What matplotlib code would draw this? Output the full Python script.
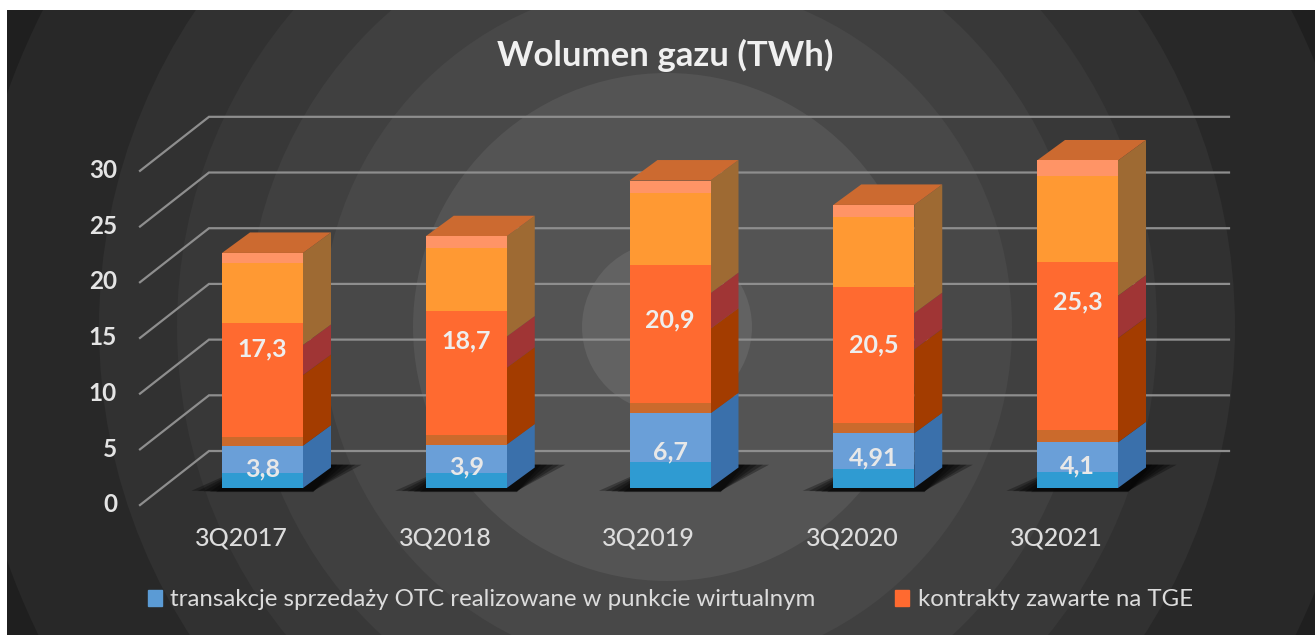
import numpy as np
import matplotlib
matplotlib.use("Agg")
import matplotlib.pyplot as plt
from matplotlib.patches import Circle, Patch

plt.rcParams["font.family"] = ["Lato", "DejaVu Sans"]

quarters = ["3Q2017", "3Q2018", "3Q2019", "3Q2020", "3Q2021"]
otc = [3.8, 3.9, 6.7, 4.91, 4.1]
tge = [17.3, 18.7, 20.9, 20.5, 25.3]
otc_labels = ["3,8", "3,9", "6,7", "4,91", "4,1"]
tge_labels = ["17,3", "18,7", "20,9", "20,5", "25,3"]
yticks = [0, 5, 10, 15, 20, 25, 30]

# shading bands on the 3d bars
blue_band = [1.35, 1.35, 2.3, 1.68, 1.46]
rust_band = [4.6, 4.76, 7.6, 5.8, 5.2]
red_band = [14.84, 15.9, 20.0, 18.0, 20.3]
amber_band = [20.2, 21.5, 26.45, 24.35, 28.0]
side_dark = [10.14, 10.8, 14.3, 12.45, 13.46]
side_maroon = [12.84, 13.6, 17.5, 15.7, 17.26]
# label heights, two of them were moved by hand in the original
otc_label_y = [1.7, 1.9, 3.2, 2.7, 2.0]
tge_label_y = [12.5, 13.2, 15.1, 12.8, 16.7]

ring_radius = [900, 700, 568, 490, 420, 345, 254, 85]
ring_color = ["#1f1f1f", "#282828", "#313131", "#383838", "#404040",
              "#484848", "#545454", "#626262"]

W, H = 1315, 635
fig = plt.figure(figsize=(W / 100, H / 100), dpi=100, facecolor="white")

# background rings
bg = fig.add_axes([7 / W, 0, (W - 7) / W, (H - 10) / H])
bg.set_xlim(7, W)
bg.set_ylim(H, 10)
bg.axis("off")
for r, c in zip(ring_radius, ring_color):
    bg.add_patch(Circle((667, 327), r, color=c, lw=0))

# chart axes fill the figure, scales picked so the bars land where they should
ax = fig.add_axes([0, 0, 1, 1])
ax.patch.set_alpha(0)
ax.axis("off")
ax.set_xlim(-262.5 / 203.75, (W - 262.5) / 203.75)
ax.set_ylim(-(H - 488) / 11.14, 488 / 11.14)

width = 81 / 203.75
dx = 28 / 203.75
dy = 20.5 / 11.14
x = np.arange(len(quarters))
totals = np.array(otc) + np.array(tge)

# walls: diagonal on the side wall and then straight along the back
wall_x = [(140 - 262.5) / 203.75, (209 - 262.5) / 203.75, (1229 - 262.5) / 203.75]
for t in yticks:
    ax.plot(wall_x, [t - 1.53, t + 3.32, t + 3.32], color="#8e8e8e", lw=1.6, zorder=1,
            solid_joinstyle="miter")
    ax.text(wall_x[0] - 23 / 203.75, t - 1.5, str(t), ha="right", va="center",
            color="#e4e4e4", fontsize=17.5, fontweight="bold")

for i in x:
    left = i - width / 2
    right = i + width / 2

    # floor shadow, a few layers to fake the blur
    for k in range(5):
        grow = (4 - k) * 0.03
        ax.fill([left - 0.03 - grow, right + 0.05, right + dx + 0.03 + grow, left + dx],
                [-0.25 - k * 0.03, -0.25 - k * 0.03, dy + 0.25, dy + 0.25],
                color="black", alpha=0.3, lw=0, zorder=2)

    # side face
    side = [(0, otc[i], "#3a70ab"), (otc[i], side_dark[i], "#a33c00"),
            (side_dark[i], side_maroon[i], "#a03535"), (side_maroon[i], totals[i], "#9e6a33")]
    for lo, hi, c in side:
        ax.fill([right, right + dx, right + dx, right], [lo, lo + dy, hi + dy, hi],
                color=c, lw=0, zorder=3)
    # top face
    ax.fill([left, left + dx, right + dx, right],
            [totals[i], totals[i] + dy, totals[i] + dy, totals[i]],
            color="#cc6a30", lw=0, zorder=3)

# front faces
bands = [(np.zeros(5), blue_band, "#2f9bd2"), (blue_band, otc, "#6a9fd8"),
         (otc, rust_band, "#cb6a2c"), (rust_band, red_band, "#ff6a30"),
         (red_band, amber_band, "#ff9933"), (amber_band, totals, "#ff9466")]
for lo, hi, c in bands:
    ax.bar(x, np.array(hi) - np.array(lo), width, bottom=lo, color=c, lw=0, zorder=4)

for i in x:
    ax.text(i, otc_label_y[i], otc_labels[i], ha="center", va="center", color="#e8e8e8",
            fontsize=18, fontweight="bold", zorder=5)
    ax.text(i, tge_label_y[i], tge_labels[i], ha="center", va="center", color="#eeeeee",
            fontsize=18, fontweight="bold", zorder=5)
    ax.text(i - 0.105, -4.5, quarters[i], ha="center", va="center", color="#dcdcdc",
            fontsize=18, fontweight="medium")

ax.text(665 / W, 1 - 55 / H, "Wolumen gazu (TWh)", transform=ax.transAxes, ha="center",
        va="center", color="#f0f0f0", fontsize=25, fontweight="bold")

handles = [Patch(color="#5b9bd5"), Patch(color="#ff6a30")]
ax.legend(handles, ["transakcje sprzedaży OTC realizowane w punkcie wirtualnym",
                    "kontrakty zawarte na TGE"],
          loc="center left", bbox_to_anchor=(126 / W, 1 - 600 / H), ncol=2, frameon=False,
          fontsize=17.3, labelcolor="#dcdcdc", handlelength=0.6, handleheight=0.6,
          handletextpad=0.35, columnspacing=3.3)

fig.savefig("out.png", dpi=100, facecolor="white")
